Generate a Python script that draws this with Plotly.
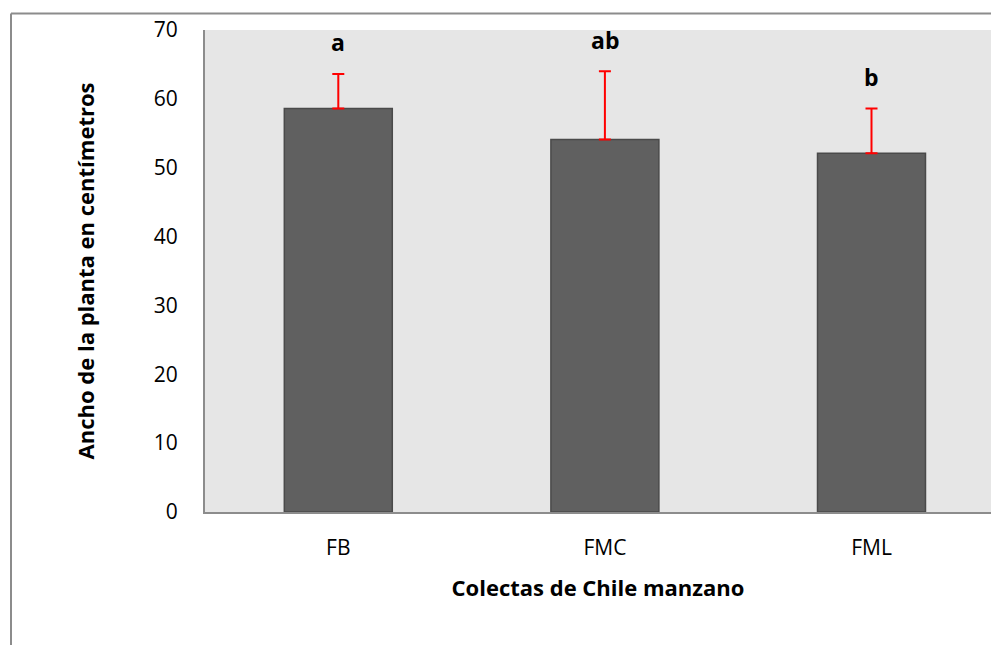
import plotly.graph_objects as go

categories = ["FB", "FMC", "FML"]
means = [58.6, 54.1, 52.1]
errors = [5.0, 9.9, 6.5]
letters = ["a", "ab", "b"]
y_ticks = [0, 10, 20, 30, 40, 50, 60, 70]

FONT = "Open Sans"
W, H = 991, 645
# plot box on the screen: x 205..991, y 30..512
L, T, R = 205, 30, 0
B = H - 512
pw, ph = W - L - R, H - T - B

def px_x(sx):
    return (sx - L) / pw

def px_y(sy):
    return (H - B - sy) / ph

fig = go.Figure()
fig.add_trace(go.Bar(
    x=list(range(len(categories))), y=means, width=0.405,
    marker=dict(color="#606060", line=dict(color="#4a4a4a", width=1.5)),
    error_y=dict(type="data", array=errors, arrayminus=[0] * len(errors),
                 symmetric=False, color="#ff0000", thickness=2, width=6),
    showlegend=False,
))

for i, (m, e, t) in enumerate(zip(means, errors, letters)):
    fig.add_annotation(x=i, y=m + e + 4.6, text=f"<b>{t}</b>", showarrow=False,
                       font=dict(family=FONT, size=23, color="black"),
                       xanchor="center", yanchor="middle")

line_col = "#8c8c8c"
# outer chart frame (top and left edges visible)
fig.add_shape(type="line", xref="paper", yref="paper",
              x0=px_x(11), x1=px_x(1000), y0=px_y(13.5), y1=px_y(13.5),
              line=dict(color=line_col, width=2))
fig.add_shape(type="line", xref="paper", yref="paper",
              x0=px_x(11), x1=px_x(11), y0=px_y(13.5), y1=px_y(660),
              line=dict(color=line_col, width=2))

fig.update_layout(
    width=W, height=H,
    margin=dict(l=L, r=R, t=T, b=B, pad=0),
    paper_bgcolor="white", plot_bgcolor="#e6e6e6",
    font=dict(family=FONT, color="black"),
)
fig.update_xaxes(
    range=[-0.5, -0.5 + pw / 266.6],
    tickmode="array", tickvals=list(range(len(categories))), ticktext=categories,
    tickfont=dict(size=21, family=FONT), ticks="outside", ticklen=16,
    tickcolor="rgba(0,0,0,0)",
    showline=True, linecolor=line_col, linewidth=2, showgrid=False, zeroline=False,
    title=dict(text="<b>Colectas de Chile manzano</b>", font=dict(size=22, family=FONT),
               standoff=20),
)
fig.update_yaxes(
    range=[0, 70], tickmode="array", tickvals=y_ticks,
    tickfont=dict(size=21, family=FONT), ticks="outside", ticklen=21,
    tickcolor="rgba(0,0,0,0)",
    showline=True, linecolor=line_col, linewidth=2, showgrid=False, zeroline=False,
    title=dict(text="<b>Ancho de la planta en centímetros</b>", font=dict(size=22, family=FONT),
               standoff=53),
)

fig.write_html(
    "out.html",
    config={"displayModeBar": False},
    post_script=(
        "document.body.style.margin='0';"
        "document.body.style.overflow='hidden';"
        "document.documentElement.style.overflow='hidden';"
    ),
)
